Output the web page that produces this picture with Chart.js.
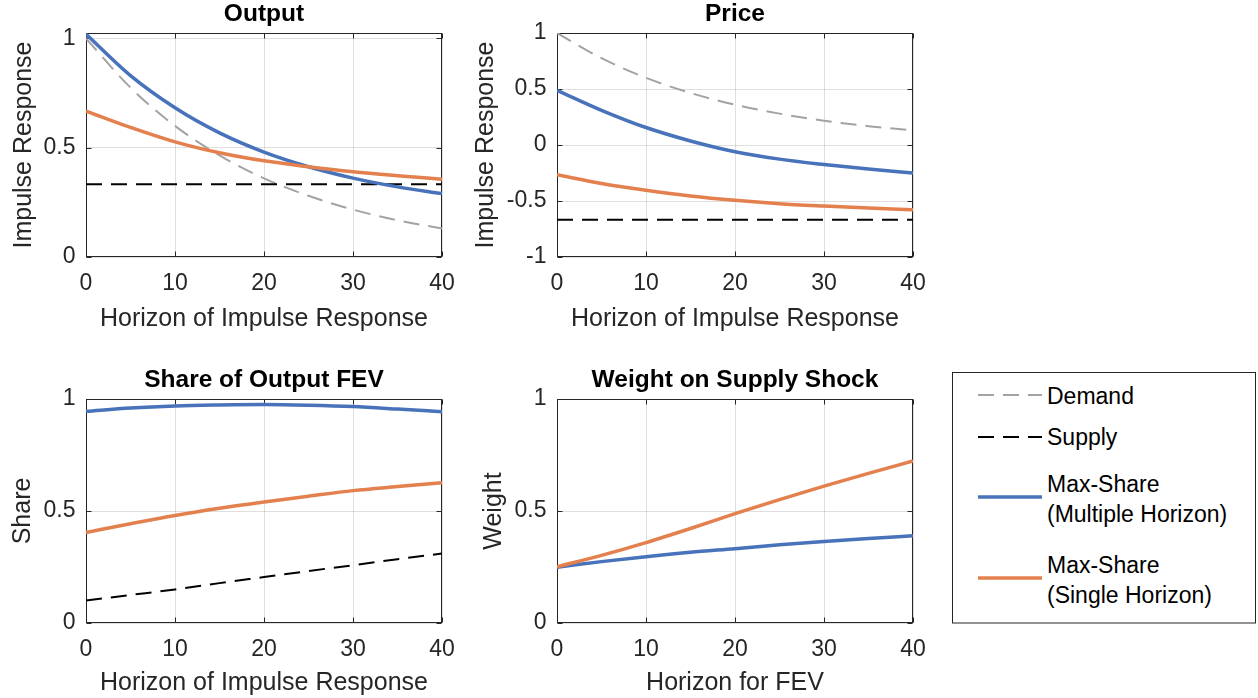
<!DOCTYPE html>
<html><head><meta charset="utf-8">
<script src="https://cdn.jsdelivr.net/npm/chart.js@4.4.1/dist/chart.umd.min.js"></script>
<style>
html,body{margin:0;padding:0;background:#fff;width:1258px;height:698px;overflow:hidden;}
canvas{position:absolute;}
#legend{position:absolute;left:940px;top:360px;}
</style></head><body>
<canvas id="c1" width="462" height="340" style="left:0px;top:0px"></canvas>
<canvas id="c2" width="473" height="340" style="left:460px;top:0px"></canvas>
<canvas id="c3" width="462" height="338" style="left:0px;top:360px"></canvas>
<canvas id="c4" width="473" height="338" style="left:460px;top:360px"></canvas>
<svg id="legend" width="318" height="338" xmlns="http://www.w3.org/2000/svg" font-family="'Liberation Sans', Arial, Helvetica, sans-serif" font-size="23" fill="#000">
  <rect x="12.5" y="12.5" width="303" height="250.5" fill="#fff" stroke="#262626" stroke-width="1"/>
  <line x1="38" y1="35" x2="102" y2="35" stroke="#a3a3a3" stroke-width="2" stroke-dasharray="16 9"/>
  <line x1="38" y1="77" x2="102" y2="77" stroke="#000" stroke-width="2" stroke-dasharray="16 9"/>
  <line x1="38" y1="137" x2="102" y2="137" stroke="rgb(72,114,186)" stroke-width="3.5"/>
  <line x1="38" y1="218" x2="102" y2="218" stroke="rgb(227,128,78)" stroke-width="3.5"/>
  <text x="107" y="44">Demand</text>
  <text x="107" y="84.5">Supply</text>
  <text x="107" y="132">Max-Share</text>
  <text x="107" y="162">(Multiple Horizon)</text>
  <text x="107" y="212.5">Max-Share</text>
  <text x="107" y="242.5">(Single Horizon)</text>
</svg>
<script>
// ---------- data ----------
const horizon = [0, 5, 10, 15, 20, 25, 30, 35, 40];
const xTicks = [0, 10, 20, 30, 40];
const xTickLabels = ['0', '10', '20', '30', '40'];

const outputDemand = [1.0, 0.775, 0.60, 0.465, 0.36, 0.28, 0.217, 0.168, 0.13];
const outputSupply = [0.333, 0.333, 0.333, 0.333, 0.333, 0.333, 0.333, 0.333, 0.333];
const outputMulti  = [1.02, 0.83, 0.683, 0.568, 0.48, 0.413, 0.361, 0.321, 0.29];
const outputSingle = [0.668, 0.593, 0.527, 0.477, 0.44, 0.413, 0.39, 0.372, 0.356];
const outputYTicks = [0, 0.5, 1];
const outputYLabels = ['0', '0.5', '1'];

const priceDemand = [1.0, 0.775, 0.60, 0.465, 0.36, 0.28, 0.217, 0.168, 0.13];
const priceSupply = [-0.667, -0.667, -0.667, -0.667, -0.667, -0.667, -0.667, -0.667, -0.667];
const priceMulti  = [0.488, 0.31, 0.156, 0.036, -0.06, -0.126, -0.174, -0.215, -0.25];
const priceSingle = [-0.266, -0.344, -0.404, -0.455, -0.494, -0.524, -0.545, -0.563, -0.578];
const priceYTicks = [-1, -0.5, 0, 0.5, 1];
const priceYLabels = ['-1', '-0.5', '0', '0.5', '1'];

const shareSupply = [0.10, 0.125, 0.15, 0.178, 0.205, 0.232, 0.258, 0.285, 0.31];
const shareMulti  = [0.945, 0.96, 0.969, 0.973, 0.975, 0.972, 0.966, 0.955, 0.943];
const shareSingle = [0.404, 0.443, 0.48, 0.512, 0.54, 0.566, 0.591, 0.609, 0.626];

const weightMulti  = [0.249, 0.274, 0.296, 0.316, 0.332, 0.349, 0.364, 0.377, 0.389];
const weightSingle = [0.251, 0.302, 0.359, 0.422, 0.488, 0.551, 0.611, 0.668, 0.723];
const unitYTicks = [0, 0.5, 1];
const unitYLabels = ['0', '0.5', '1'];

// ---------- styling ----------
const FONT = "'Liberation Sans', Arial, Helvetica, sans-serif";
const AX = '#262626';
const GRID = 'rgba(38,38,38,0.15)';
const BLUE = 'rgb(72,114,186)';
const ORANGE = 'rgb(227,128,78)';
const GRAY = '#a3a3a3';
const LABEL_SIZE = 25;
const TICK_SIZE = 23;
const TITLE_SIZE = 24.5;

const framePlugin = {
  id: 'frame',
  beforeDatasetsDraw(chart) {
    const {ctx, chartArea} = chart;
    const l = Math.round(chartArea.left) + 0.5, r = Math.round(chartArea.right) - 0.5;
    const t = Math.round(chartArea.top) + 0.5, b = Math.round(chartArea.bottom) - 0.5;
    const xs = chart.scales.x, ys = chart.scales.y;
    const tl = 5;
    ctx.save();
    ctx.strokeStyle = AX;
    ctx.lineWidth = 1;
    ctx.beginPath();
    xs.ticks.forEach(tk => {
      const p = Math.round(xs.getPixelForValue(tk.value)) + 0.5;
      ctx.moveTo(p, b); ctx.lineTo(p, b - tl);
      ctx.moveTo(p, t); ctx.lineTo(p, t + tl);
    });
    ys.ticks.forEach(tk => {
      const p = Math.round(ys.getPixelForValue(tk.value)) + 0.5;
      ctx.moveTo(l, p); ctx.lineTo(l + tl, p);
      ctx.moveTo(r, p); ctx.lineTo(r - tl, p);
    });
    ctx.stroke();
    ctx.strokeRect(l, t, r - l, b - t);
    ctx.restore();
  }
};

function series(values, color, width, dash, order) {
  return {
    data: horizon.map((h, i) => ({x: h, y: values[i]})),
    borderColor: color, borderWidth: width, borderDash: dash,
    pointRadius: 0, fill: false, cubicInterpolationMode: 'monotone', order: order
  };
}

function makePanel(id, cfg) {
  new Chart(document.getElementById(id), {
    type: 'line',
    data: {datasets: cfg.datasets},
    options: {
      responsive: false, animation: false, devicePixelRatio: 1,
      layout: {padding: {left: 0, right: 20, top: 0, bottom: 0}},
      plugins: {
        legend: {display: false}, tooltip: {enabled: false},
        title: {display: true, text: cfg.title, color: '#000', fullSize: false,
          font: {family: FONT, size: TITLE_SIZE, weight: 'bold'},
          padding: {top: cfg.tp, bottom: cfg.tb}}
      },
      scales: {
        x: {
          type: 'linear', min: 0, max: 40,
          afterBuildTicks: s => { s.ticks = xTicks.map(v => ({value: v})); },
          afterFit: s => { s.height = cfg.xh; s.paddingLeft = 0; s.paddingRight = 0; },
          grid: {color: GRID, drawTicks: false, lineWidth: 1},
          border: {display: false},
          ticks: {padding: 12.5, color: AX, maxRotation: 0, autoSkip: false,
            font: {family: FONT, size: TICK_SIZE},
            callback: (v, i) => xTickLabels[i]},
          title: {display: true, text: cfg.xlabel, color: AX,
            font: {family: FONT, size: LABEL_SIZE}, padding: {top: 0, bottom: cfg.xlp}}
        },
        y: {
          type: 'linear', min: cfg.ymin, max: cfg.ymax,
          afterBuildTicks: s => { s.ticks = cfg.yTicks.map(v => ({value: v})); },
          afterFit: s => { s.width = cfg.yw; s.paddingTop = 0; s.paddingBottom = 0; },
          grid: {color: GRID, drawTicks: false, lineWidth: 1},
          border: {display: false},
          ticks: {padding: 10.5, color: AX, autoSkip: false,
            font: {family: FONT, size: TICK_SIZE},
            callback: (v, i) => cfg.yLabels[i]},
          title: {display: true, text: cfg.ylabel, color: AX,
            font: {family: FONT, size: LABEL_SIZE}, padding: {top: cfg.ylp, bottom: 0}}
        }
      }
    },
    plugins: [framePlugin]
  });
}

makePanel('c1', {
  title: 'Output', tp: 0, tb: 3.6, xh: 83, yw: 86, xlp: 6, ylp: 9,
  xlabel: 'Horizon of Impulse Response', ylabel: 'Impulse Response',
  ymin: 0, ymax: 1.025, yTicks: outputYTicks, yLabels: outputYLabels,
  datasets: [
    series(outputDemand, GRAY, 2, [16, 9], 3),
    series(outputSupply, '#000', 2, [16, 9], 2),
    series(outputMulti, BLUE, 3.5, [], 1),
    series(outputSingle, ORANGE, 3.5, [], 0)
  ]
});
makePanel('c2', {
  title: 'Price', tp: 0, tb: 3.6, xh: 83, yw: 97, xlp: 6, ylp: 11,
  xlabel: 'Horizon of Impulse Response', ylabel: 'Impulse Response',
  ymin: -1, ymax: 1, yTicks: priceYTicks, yLabels: priceYLabels,
  datasets: [
    series(priceDemand, GRAY, 2, [16, 9], 3),
    series(priceSupply, '#000', 2, [16, 9], 2),
    series(priceMulti, BLUE, 3.5, [], 1),
    series(priceSingle, ORANGE, 3.5, [], 0)
  ]
});
makePanel('c3', {
  title: 'Share of Output FEV', tp: 5.6, tb: 4, xh: 75, yw: 86, xlp: 0, ylp: 8.5,
  xlabel: 'Horizon of Impulse Response', ylabel: 'Share',
  ymin: 0, ymax: 1, yTicks: unitYTicks, yLabels: unitYLabels,
  datasets: [
    series(shareSupply, '#000', 2, [16, 9], 2),
    series(shareMulti, BLUE, 3.5, [], 1),
    series(shareSingle, ORANGE, 3.5, [], 0)
  ]
});
makePanel('c4', {
  title: 'Weight on Supply Shock', tp: 5.6, tb: 4, xh: 75, yw: 97, xlp: 0, ylp: 19.5,
  xlabel: 'Horizon for FEV', ylabel: 'Weight',
  ymin: 0, ymax: 1, yTicks: unitYTicks, yLabels: unitYLabels,
  datasets: [
    series(weightMulti, BLUE, 3.5, [], 1),
    series(weightSingle, ORANGE, 3.5, [], 0)
  ]
});
</script>
</body></html>
